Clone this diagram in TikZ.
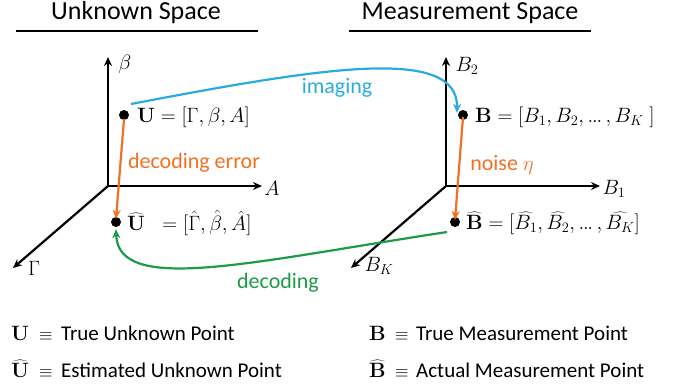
\documentclass[tikz,border=0pt]{standalone}
\usepackage[no-math]{fontspec}
\setmainfont{Carlito}
\usetikzlibrary{arrows.meta}
\definecolor{imgblue}{RGB}{41,171,226}
\definecolor{errorange}{RGB}{243,112,33}
\definecolor{decgreen}{RGB}{30,155,70}
\newcommand{\tdots}{\mathinner{.\mkern-1mu.\mkern-1mu.}}
\tikzset{
  axis/.style={line width=2.2pt,-{Stealth[length=9pt,width=8pt]}},
  flow/.style={line width=2.2pt,-{Stealth[length=9pt,width=8pt]}},
  pt/.style={circle,fill=black,inner sep=0pt,minimum size=10pt},
  mlab/.style={inner sep=0pt,anchor=west,font=\fontsize{20}{24}\selectfont},
  axlab/.style={inner sep=0pt,font=\fontsize{21}{24}\selectfont},
  ttl/.style={inner sep=0pt,font=\fontsize{26}{30}\selectfont},
  lbl/.style={inner sep=0pt,font=\fontsize{22}{26}\selectfont},
  leg/.style={inner sep=0pt,anchor=base west,font=\fontsize{21}{24}\selectfont},
  legeq/.style={inner sep=0pt,anchor=base west,font=\fontsize{16}{20}\selectfont},
  legsym/.style={inner sep=0pt,anchor=base west,font=\fontsize{20}{24}\selectfont},
}
\begin{document}
\begin{tikzpicture}[x=1pt,y=-1pt]
\useasboundingbox (0,0) rectangle (690,389);
% titles
\node[ttl] (t1) at (136,13) {Unknown Space};
\node[ttl] (t2) at (470,13) {Measurement Space};
\draw[line width=2pt] (16,31) -- (258,31);
\draw[line width=2pt] (349,31) -- (591,31);
% left axes
\coordinate (O1) at (108,186);
\coordinate (yb) at (108,57);
\coordinate (xa) at (262,186);
\coordinate (zg) at (13,268);
\draw[axis] (O1) -- (yb);
\draw[axis] (O1) -- (xa);
\draw[axis] (O1) -- (zg);
\node[axlab] (lb) at (125,64) {$\beta$};
\node[axlab] (la) at (272,188) {$A$};
\node[axlab] (lg) at (34,268) {$\Gamma$};
% right axes
\coordinate (O2) at (446,186);
\coordinate (yb2) at (446,57);
\coordinate (xb1) at (600,186);
\coordinate (zbk) at (351,268);
\draw[axis] (O2) -- (yb2);
\draw[axis] (O2) -- (xb1);
\draw[axis] (O2) -- (zbk);
\node[axlab] (lb2) at (467,66) {$B_2$};
\node[axlab] (lb1) at (614,189) {$B_1$};
\node[axlab] (lbk) at (379,266) {$B_K$};
% points
\node[pt] (U) at (124,115) {};
\node[pt] (Uh) at (116,222) {};
\node[pt] (B) at (463,115) {};
\node[pt] (Bh) at (455,222) {};
\node[mlab] (Ul) at (137,117) {$\mathbf{U}=[\Gamma,\beta,A]$};
\node[mlab] (Uhl) at (127,223) {$\widehat{\mathbf{U}}\;\;=[\hat\Gamma,\hat\beta,\hat A]$};
\node[mlab] (Bl) at (475,117) {$\mathbf{B}=[B_1,B_2,\tdots,B_K\;]$};
\node[mlab] (Bhl) at (466,223) {$\widehat{\mathbf{B}}=[\widehat{B_1},\widehat{B_2},\tdots,\widehat{B_K}]$};
% orange arrows
\draw[flow,errorange] ([yshift=1pt]U.south) -- ([yshift=-2pt]Uh.north);
\draw[flow,errorange] ([yshift=3pt]B.south) -- ([yshift=-3pt]Bh.north);
\node[lbl,text=errorange] (de) at (194,163) {decoding error};
\node[lbl,text=errorange] (ne) at (502,165) {noise $\eta$};
% imaging
\coordinate (is) at (131,104);
\draw[flow,imgblue] (is) .. controls (320,68) and (458,45) .. ([shift={(-6pt,-3pt)}]B.north);
\node[lbl,text=imgblue] (im) at (337,88) {imaging};
% decoding
\coordinate (ds) at (447,232);
\draw[flow,decgreen] (ds) .. controls (250,262) and (118,295) .. ([yshift=-2pt]Uh.south);
\node[lbl,text=decgreen] (dc) at (278,283) {decoding};
% legend
\node[legsym] (S1) at (11,340) {$\mathbf{U}$};
\node[legeq] (E1) at (39,340) {$\equiv$};
\node[leg] (L1) at (61,340) {True Unknown Point};
\node[legsym] (S2) at (11,377) {$\widehat{\mathbf{U}}$};
\node[legeq] (E2) at (39,377) {$\equiv$};
\node[leg] (L2) at (61,377) {Estimated Unknown Point};
\node[legsym] (S3) at (369,340) {$\mathbf{B}$};
\node[legeq] (E3) at (395,340) {$\equiv$};
\node[leg] (L3) at (416,340) {True Measurement Point};
\node[legsym] (S4) at (369,377) {$\widehat{\mathbf{B}}$};
\node[legeq] (E4) at (395,377) {$\equiv$};
\node[leg] (L4) at (416,377) {Actual Measurement Point};
\end{tikzpicture}
\end{document}
